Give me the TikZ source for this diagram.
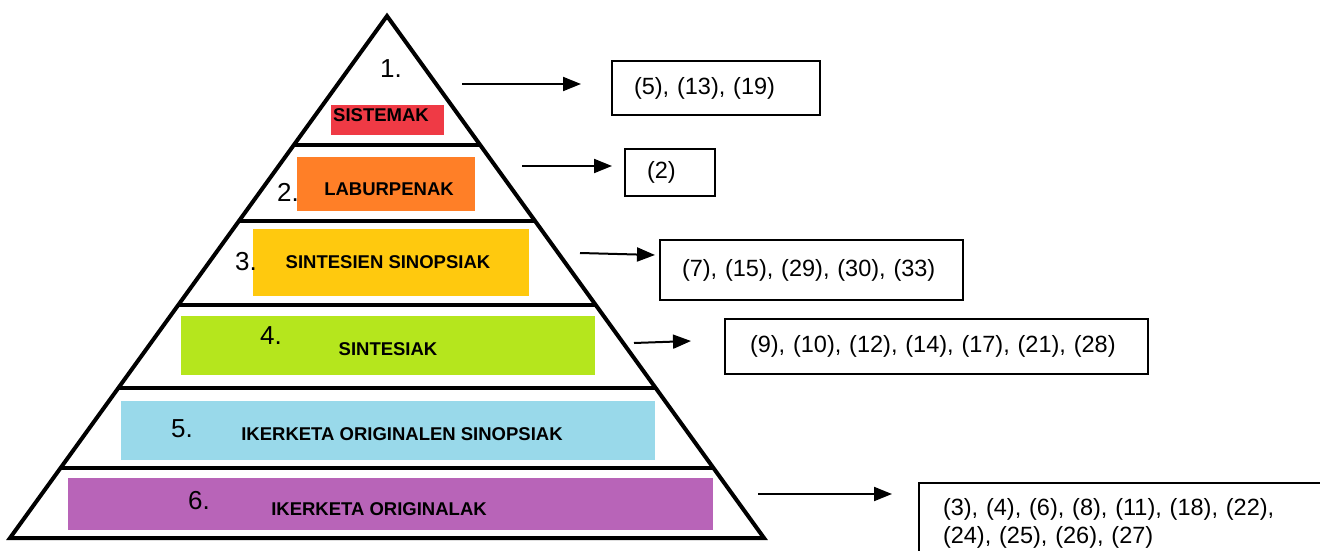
\documentclass[tikz,border=0pt]{standalone}
\usepackage{fontspec}
\setmainfont{Liberation Sans}
\usetikzlibrary{arrows.meta,calc}

\definecolor{sysred}{HTML}{EF3A45}
\definecolor{sumorange}{HTML}{FF7F27}
\definecolor{synyellow}{HTML}{FFC90E}
\definecolor{syngreen}{HTML}{B5E61D}
\definecolor{origblue}{HTML}{99D9EA}
\definecolor{origpurple}{HTML}{B864B8}

\begin{document}
\begin{tikzpicture}[x=1pt,y=-1pt]
  \useasboundingbox (0,0) rectangle (1320,551);

  \tikzstyle{pyr}=[line width=4pt, line join=miter]
  \tikzstyle{num}=[inner sep=0pt, font=\fontsize{26}{30}\selectfont]
  \tikzstyle{lbl}=[inner sep=0pt, font=\bfseries\fontsize{18.5}{22}\selectfont]
  \tikzstyle{numbox}=[draw, line width=2pt, inner xsep=22pt, inner ysep=0pt, align=left, anchor=north west, font=\fontsize{23.5}{28}\selectfont]
  \tikzstyle{arr}=[line width=2pt, -{Triangle[length=18pt,width=14pt]}]

  % Ebenen
  \fill[sysred] (331,105) rectangle (444,135);
  \fill[sumorange] (297,157) rectangle (475,211);
  \fill[synyellow] (253,229) rectangle (529,296);
  \fill[syngreen] (181,316) rectangle (595,375);
  \fill[origblue] (121,401) rectangle (655,460);
  \fill[origpurple] (68,478) rectangle (713,530);

  % Pyramide
  \coordinate (top) at (387,16);
  \coordinate (bl) at (10,538);
  \coordinate (br) at (764,538);
  \draw[pyr] (top) -- (bl) -- (br) -- cycle;
  \foreach \y in {145,221,305,388,468}
    \draw[pyr] ($(top)!{(\y-16)/522}!(bl)$) -- ($(top)!{(\y-16)/522}!(br)$);

  % Nummern
  \node[num] (n1) at (391,69) {1.};
  \node[num] (n2) at (288,192) {2.};
  \node[num] (n3) at (246,262) {3.};
  \node[num] (n4) at (271,336) {4.};
  \node[num] (n5) at (182,429) {5.};
  \node[num] (n6) at (199,501) {6.};

  % Beschriftungen
  \node[lbl] (l1) at (381,115) {SISTEMAK};
  \node[lbl] (l2) at (389,189) {LABURPENAK};
  \node[lbl] (l3) at (388,262) {SINTESIEN SINOPSIAK};
  \node[lbl] (l4) at (388,349) {SINTESIAK};
  \node[lbl] (l5) at (402,434) {IKERKETA ORIGINALEN SINOPSIAK};
  \node[lbl] (l6) at (379,509) {IKERKETA ORIGINALAK};

  % Kaesten
  \node[numbox, text width=164pt, minimum height=54pt] (b1) at (611,60) {(5), (13), (19)};
  \node[numbox, text width=46pt, minimum height=47pt] (b2) at (624,148) {(2)};
  \node[numbox, text width=259pt, minimum height=60pt] (b3) at (659,239) {(7), (15), (29), (30), (33)};
  \node[numbox, inner xsep=25pt, text width=373pt, minimum height=55pt] (b4) at (724,318) {(9), (10), (12), (14), (17), (21), (28)};
  \node[numbox, text width=380pt, inner xsep=24pt, inner ysep=15pt, text depth=40pt] (b6) at (918,482)
    {(3), (4), (6), (8), (11), (18), (22),\\(24), (25), (26), (27)};

  % Pfeile
  \coordinate (s1) at (462,84);  \coordinate (e1) at (581,84);
  \coordinate (s2) at (522,166); \coordinate (e2) at (612,166);
  \coordinate (s3) at (580,253); \coordinate (e3) at (655,255);
  \coordinate (s4) at (634,343); \coordinate (e4) at (691,341);
  \coordinate (s6) at (758,494); \coordinate (e6) at (892,494);
  \foreach \i in {1,2,3,4,6}
    \draw[arr] (s\i) -- (e\i);
\end{tikzpicture}
\end{document}
